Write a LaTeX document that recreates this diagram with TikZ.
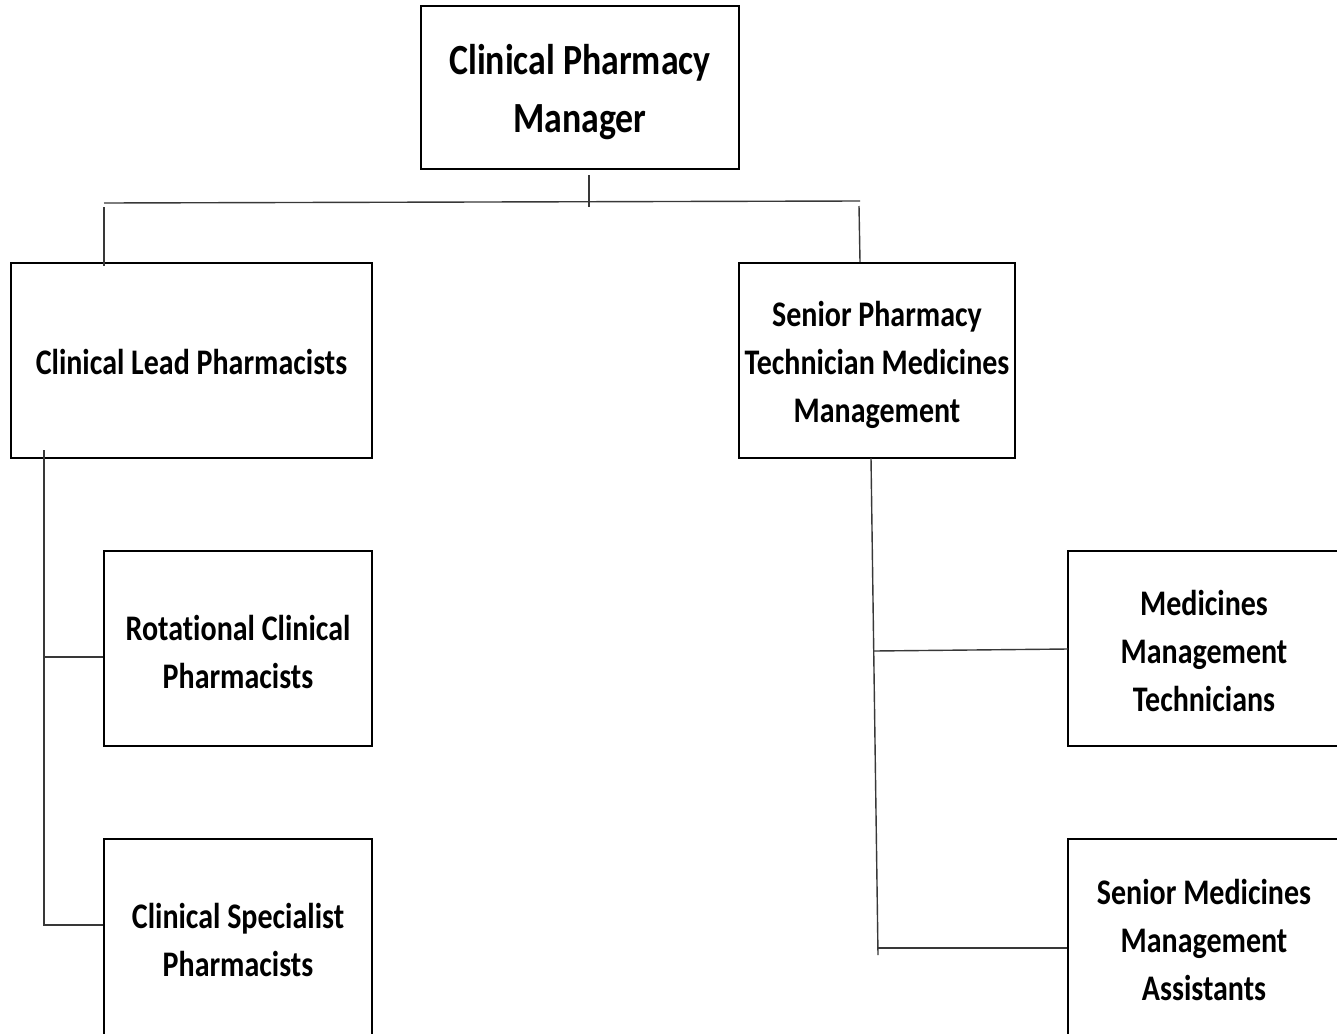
\documentclass[tikz,border=0pt]{standalone}
\usepackage{fontspec}
\setmainfont{Carlito}[FakeStretch=0.833, Ligatures=NoCommon]
\begin{document}
\begin{tikzpicture}[x=1pt,y=-1pt,
  box/.style={draw=black, line width=2.2pt, rectangle, inner sep=0pt},
  txt/.style={align=center, inner sep=0pt, font=\fontsize{36}{48}\selectfont\bfseries},
  toptxt/.style={txt, font=\fontsize{43}{58}\selectfont\bfseries},
  link/.style={draw=black!78, line width=1.4pt}]
\useasboundingbox (0,0) rectangle (1337,1033);
\clip (0,0) rectangle (1337,1033);
\fill[white] (0,0) rectangle (1337,1033);

% boxes, each with its title centred inside
\node[box, minimum width=318pt, minimum height=163pt,
  label={[toptxt, yshift=-4.5pt]center:{Clinical Pharmacy\\Manager}}] (mgr) at (580,87.5) {};
\node[box, minimum width=361pt, minimum height=195pt,
  label={[txt, yshift=-1pt]center:{Clinical Lead Pharmacists}}] (lead) at (191.5,360.5) {};
\node[box, minimum width=276pt, minimum height=195pt,
  label={[txt, yshift=-4.5pt]center:{Senior Pharmacy\\Technician Medicines\\Management}}] (senior) at (877,360.5) {};
\node[box, minimum width=268pt, minimum height=195pt,
  label={[txt, yshift=-3pt]center:{Rotational Clinical\\Pharmacists}}] (rot) at (238,648.5) {};
\node[box, minimum width=268pt, minimum height=202pt,
  label={[txt]center:{Clinical Specialist\\Pharmacists}}] (spec) at (238,940) {};
\node[box, minimum width=272pt, minimum height=195pt,
  label={[txt, yshift=-2pt]center:{Medicines\\Management\\Technicians}}] (mmt) at (1204,648.5) {};
\node[box, minimum width=272pt, minimum height=202pt,
  label={[txt]center:{Senior Medicines\\Management\\Assistants}}] (smma) at (1204,940) {};

% top-level connectors
\coordinate (stemA) at (589,175);
\coordinate (stemB) at (589,207);
\coordinate (busL) at (104,203);
\coordinate (busR) at (860,201);
\coordinate (dropL) at (104,207);
\coordinate (dropLend) at (104,266);
\coordinate (dropR) at (859,206);
\coordinate (dropRend) at (860,262);
\draw[link] (stemA) -- (stemB);
\draw[link] (busL) -- (busR);
\draw[link] (dropL) -- (dropLend);
\draw[link] (dropR) -- (dropRend);

% left branch
\coordinate (spineLtop) at (44,450);
\coordinate (spineLbot) at (44,926);
\coordinate (jL1) at (44,657);
\coordinate (jL2) at (43,925);
\draw[link] (spineLtop) -- (spineLbot);
\draw[link] (jL1) -- (jL1 -| rot.west);
\draw[link] (jL2) -- (jL2 -| spec.west);

% right branch
\coordinate (spineRtop) at (871,458);
\coordinate (spineRbot) at (878,955);
\coordinate (jR1) at (874,651);
\coordinate (jR1e) at (1068,649);
\coordinate (jR2) at (878,948);
\draw[link] (spineRtop) -- (spineRbot);
\draw[link] (jR1) -- (jR1e);
\draw[link] (jR2) -- (jR2 -| smma.west);
\end{tikzpicture}
\end{document}
